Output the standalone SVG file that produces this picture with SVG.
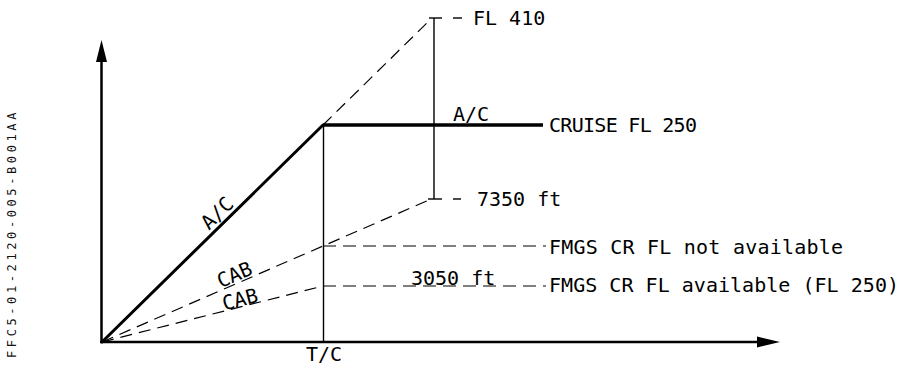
<svg xmlns="http://www.w3.org/2000/svg" width="903" height="366" viewBox="0 0 903 366">
<style>
.t{font-family:"DejaVu Sans Mono","Liberation Mono",monospace;font-size:20px;fill:#000}
.code{font-family:"DejaVu Sans Mono","Liberation Mono",monospace;font-size:12px;fill:#111;letter-spacing:3.6px}
.axis{stroke:#000;stroke-width:2.5;fill:none}
.thick{stroke:#000;stroke-width:3;fill:none;stroke-linecap:round}
.thin{stroke:#000;stroke-width:1.4;fill:none}
.dash{stroke:#000;stroke-width:1.2;fill:none;stroke-dasharray:12 7}
.hdash{stroke:#000;stroke-width:1.2;fill:none;stroke-dasharray:13 7}
</style>
<rect width="903" height="366" fill="#fff"/>
<g id="axes">
<line class="axis" x1="101.5" y1="343" x2="101.5" y2="58"/>
<polygon points="101.5,40 96,62 107,62" fill="#000"/>
<line class="axis" x1="100" y1="342" x2="760" y2="342"/>
<polygon points="780,342 757,336.5 757,347.5" fill="#000"/>
</g>
<g id="connectors">
<line class="thick" x1="102" y1="342" x2="323" y2="125"/>
<line class="thick" style="stroke-width:3.5;stroke-linecap:butt" x1="323" y1="125" x2="543" y2="125"/>
<line class="thin" x1="323.5" y1="125" x2="323.5" y2="342"/>
<line class="dash" x1="323" y1="125" x2="431" y2="19"/>
<line class="dash" x1="102" y1="342" x2="429" y2="200"/>
<line class="dash" x1="102" y1="342" x2="323" y2="286"/>
<line class="hdash" x1="323" y1="246" x2="546" y2="246"/>
<line class="hdash" x1="323" y1="286" x2="546" y2="286"/>
<line class="thin" x1="434" y1="18" x2="434" y2="199"/>
<line class="thin" x1="429" y1="18" x2="442" y2="18"/>
<line class="thin" x1="428" y1="199" x2="442" y2="199"/>
<line class="thin" x1="453" y1="18" x2="462" y2="18"/>
<line class="thin" x1="453" y1="199" x2="461" y2="199"/>
</g>
<g id="fl410"><text class="t" x="473" y="25">FL 410</text></g>
<g id="ft7350"><text class="t" x="477" y="206">7350 ft</text></g>
<g id="cruise">
<text class="t" x="453" y="121">A/C</text>
<text class="t" x="549" y="132" textLength="148">CRUISE FL 250</text>
</g>
<g id="notavail"><text class="t" x="549" y="254" textLength="294">FMGS CR FL not available</text></g>
<g id="avail"><text class="t" x="549" y="292" textLength="350">FMGS CR FL available (FL 250)</text></g>
<g id="ft3050"><text class="t" x="411" y="285">3050 ft</text></g>
<g id="labels">
<text class="t" text-anchor="middle" transform="translate(222,218) rotate(-44.4)">A/C</text>
<text class="t" text-anchor="middle" transform="translate(237.3,281) rotate(-23.5)">CAB</text>
<text class="t" text-anchor="middle" transform="translate(241.7,306) rotate(-14.2)">CAB</text>
<text class="t" text-anchor="middle" x="324" y="361">T/C</text>
</g>
<g id="code"><text class="code" transform="translate(15.5,358) rotate(-90)">FFC5-01-2120-005-B001AA</text></g>
</svg>
